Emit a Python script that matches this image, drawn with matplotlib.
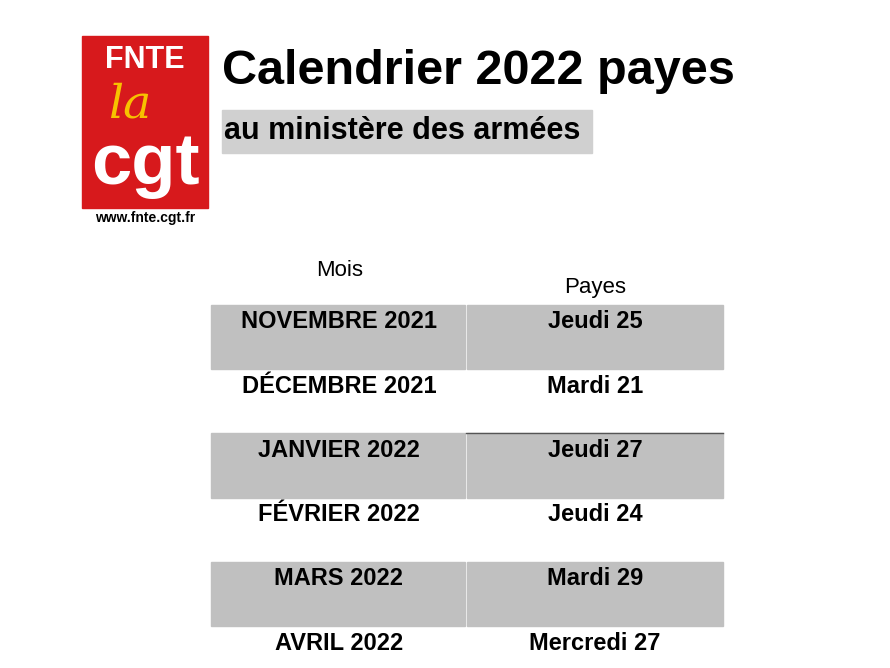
import matplotlib
matplotlib.use("Agg")
import matplotlib.pyplot as plt
from matplotlib.patches import Rectangle

months = ["NOVEMBRE 2021", "DÉCEMBRE 2021", "JANVIER 2022", "FÉVRIER 2022", "MARS 2022", "AVRIL 2022"]
payes = ["Jeudi 25", "Mardi 21", "Jeudi 27", "Jeudi 24", "Mardi 29", "Mercredi 27"]
headers = ["Mois", "Payes"]
title = "Calendrier 2022 payes"
subtitle = "au ministère des armées"

fam = "Liberation Sans"

fig = plt.figure(figsize=(8.9, 6.68), dpi=100)
ax = fig.add_axes([0, 0, 1, 1])
ax.set_xlim(0, 890); ax.set_ylim(668, 0); ax.axis("off")

# logo
ax.add_patch(Rectangle((82, 36), 126, 172, color="#d7191c"))
ax.text(145, 60, "FNTE", color="white", fontsize=22, weight="bold", ha="center", va="center", family=fam)
ax.text(130, 105, "la", color="#f7c200", fontsize=34, style="italic", ha="center", va="center", family="DejaVu Serif")
ax.text(145, 165, "cgt", color="white", fontsize=52, weight="bold", ha="center", va="center", family=fam)
ax.text(145, 218, "www.fnte.cgt.fr", color="black", fontsize=10, weight="bold", ha="center", va="center", family=fam)

ax.text(222, 72, title, fontsize=35, weight="bold", ha="left", va="center", family=fam)
ax.add_patch(Rectangle((222, 110), 370, 43, color="#d0d0d0"))
ax.text(224, 131, subtitle, fontsize=22, weight="bold", ha="left", va="center", family=fam)

ax.text(340, 270, headers[0], fontsize=16, ha="center", va="center", family=fam)
ax.text(595, 287, headers[1], fontsize=16, ha="center", va="center", family=fam)

row_h = 64.2
top = 305
for i, (m, p) in enumerate(zip(months, payes)):
    y0 = top + i * row_h
    if i % 2 == 0:
        ax.add_patch(Rectangle((211, y0), 254, row_h, color="#c0c0c0"))
        ax.add_patch(Rectangle((467, y0), 256, row_h, color="#c0c0c0"))
    ax.text(339, y0 + 17, m, fontsize=17, weight="bold", ha="center", va="center", family=fam)
    ax.text(595, y0 + 17, p, fontsize=17, weight="bold", ha="center", va="center", family=fam)
ax.plot([466, 723], [top + 2 * row_h, top + 2 * row_h], color="#555555", lw=1)

fig.savefig("out.png", dpi=100)
